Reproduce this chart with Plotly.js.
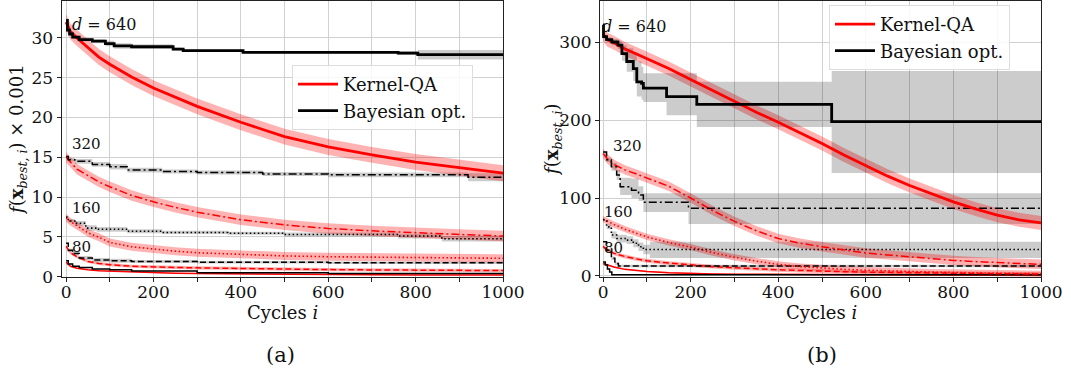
<!DOCTYPE html>
<html><head><meta charset="utf-8">
<script src="https://cdn.plot.ly/plotly-3.0.1.min.js"></script>
<style>body{margin:0;background:#fff}#chart{width:1071px;height:381px}</style>
</head><body><div id="chart"></div>
<script>
// ================= DATA =================
// ---- panel (a): f(x_best,i) x 0.001 ----
const a_kqa_cycles = [0, 10, 25, 50, 75, 100, 150, 200, 250, 300, 400, 500, 600, 700, 800, 900, 1000];
const a_kqa_640 = [32.0, 30.8, 30.0, 28.8, 27.6, 26.7, 25.1, 23.7, 22.5, 21.4, 19.4, 17.6, 16.3, 15.3, 14.4, 13.7, 13.0];
const a_kqa_320 = [15.0, 14.4, 13.5, 12.7, 11.9, 11.3, 10.2, 9.4, 8.7, 8.1, 7.15, 6.5, 6.05, 5.75, 5.5, 5.3, 5.1];
const a_kqa_160 = [7.4, 6.9, 6.4, 5.5, 4.95, 4.3, 3.75, 3.45, 3.2, 3.0, 2.8, 2.6, 2.5, 2.45, 2.4, 2.35, 2.3];
const a_kqa_80  = [3.8, 3.0, 2.5, 1.9, 1.65, 1.5, 1.3, 1.2, 1.15, 1.1, 1.0, 0.93, 0.88, 0.84, 0.8, 0.78, 0.76];
const a_kqa_40  = [1.8, 1.3, 1.05, 0.85, 0.75, 0.7, 0.58, 0.5, 0.42, 0.38, 0.32, 0.28, 0.25, 0.23, 0.21, 0.2, 0.19];
const a_kqa_spread = {640: 1.0, 320: 0.65, 160: 0.5, 80: 0.2, 40: 0.05};

const a_bo_640_x  = [0, 3, 8, 15, 30, 60, 90, 110, 150, 245, 268, 405, 760, 805, 1000];
const a_bo_640    = [32.2, 31.0, 30.5, 30.1, 29.8, 29.6, 29.3, 29.0, 28.9, 28.6, 28.4, 28.2, 28.1, 27.9, 27.9];
const a_bo_640_sd = [0.1, 0.2, 0.2, 0.2, 0.2, 0.25, 0.35, 0.35, 0.3, 0.2, 0.15, 0.15, 0.25, 0.6, 0.6];
const a_bo_320_x  = [0, 5, 20, 60, 100, 140, 220, 300, 450, 600, 920, 1000];
const a_bo_320    = [15.1, 14.7, 14.5, 14.1, 13.8, 13.4, 13.2, 13.1, 12.9, 12.8, 12.5, 12.5];
const a_bo_320_sd = [0.1, 0.2, 0.3, 0.3, 0.35, 0.3, 0.25, 0.25, 0.25, 0.3, 0.5, 0.5];
const a_bo_160_x  = [0, 5, 20, 45, 70, 140, 220, 370, 500, 760, 860, 1000];
const a_bo_160    = [7.5, 7.0, 6.7, 6.1, 5.95, 5.7, 5.55, 5.45, 5.3, 5.1, 4.75, 4.75];
const a_bo_160_sd = [0.1, 0.2, 0.3, 0.35, 0.3, 0.25, 0.2, 0.2, 0.25, 0.3, 0.35, 0.35];
const a_bo_80_x   = [0, 5, 15, 30, 60, 100, 150, 300, 600, 1000];
const a_bo_80     = [4.2, 3.3, 2.9, 2.35, 2.1, 2.0, 1.9, 1.8, 1.75, 1.7];
const a_bo_80_sd  = [0.1, 0.2, 0.25, 0.25, 0.25, 0.25, 0.2, 0.15, 0.15, 0.15];
const a_bo_40_x   = [0, 5, 15, 30, 60, 100, 150, 300, 600, 1000];
const a_bo_40     = [2.0, 1.6, 1.3, 1.15, 0.95, 0.85, 0.7, 0.5, 0.38, 0.3];
const a_bo_40_sd  = [0.02, 0.05, 0.05, 0.05, 0.05, 0.05, 0.04, 0.03, 0.03, 0.03];

// ---- panel (b): f(x_best,i) ----
const b_kqa_cycles = [0, 10, 25, 50, 75, 100, 150, 200, 250, 300, 350, 400, 450, 500, 550, 600, 650, 700, 750, 800, 850, 900, 950, 1000];
const b_kqa_640 = [310, 303, 299, 291, 285, 279, 266, 252, 238, 223, 210, 197, 184, 170, 155, 141, 128, 116, 105, 95, 86, 78, 72, 68];
const b_kqa_320 = [157, 150, 143, 136, 131, 126, 115, 100, 84, 70, 58, 48, 42, 37.5, 33.5, 29.5, 27, 24.5, 22, 20, 18.5, 17, 16, 15];
const b_kqa_160 = [73, 70, 66, 60, 55, 50, 43, 37, 30, 24, 19, 15, 12, 10, 8.5, 7.5, 6.5, 5.8, 5, 4.5, 4, 3.5, 3, 2.8];
const b_kqa_80  = [38, 33, 29, 25, 22, 19.5, 16.5, 14, 12, 10.5, 9, 8, 7, 6, 5.5, 5, 4.5, 4, 3.7, 3.4, 3.1, 2.9, 2.7, 2.5];
const b_kqa_40  = [16, 14, 11.5, 8.5, 7, 5.8, 4.2, 3.2, 2.6, 2.2, 2, 1.8, 1.7, 1.6, 1.5, 1.5, 1.4, 1.4, 1.3, 1.3, 1.3, 1.2, 1.2, 1.2];
const b_kqa_spread = {640: 9, 320: 6, 160: 4, 80: 2.5, 40: 0.8};

const b_bo_640_x  = [0, 1, 8, 20, 34, 43, 54, 69, 77, 88, 92, 145, 214, 522, 1000];
const b_bo_640    = [322, 307, 303, 300, 296, 285, 275, 266, 249, 247, 241, 230, 220, 198, 198];
const b_bo_640_hi = [322, 309, 306, 304, 301, 296, 292, 287, 275, 268, 260, 260, 249, 263, 263];
const b_bo_640_lo = [322, 305, 300, 296, 291, 276, 262, 250, 230, 226, 223, 206, 191, 132, 132];
const b_bo_320_x  = [0, 8, 19, 31, 39, 65, 81, 92, 195, 1000];
const b_bo_320    = [159, 149, 140, 129.5, 114.5, 110, 104, 94.5, 87, 87];
const b_bo_320_hi = [159, 152, 145, 136, 126, 125, 115, 106, 106, 106];
const b_bo_320_lo = [159, 146, 135, 123, 104, 100, 96, 82, 66.7, 66.7];
const b_bo_160_x  = [0, 8, 19, 31, 54, 69, 81, 92, 107, 1000];
const b_bo_160    = [72, 63, 52.5, 48, 46, 42, 37.5, 34, 34, 34];
const b_bo_160_hi = [72, 66, 57, 53, 51, 47, 43, 40, 44, 44];
const b_bo_160_lo = [72, 60, 48, 43, 41, 37, 32, 28, 23, 23];
const b_bo_80_x   = [0, 8, 19, 27, 35, 1000];
const b_bo_80     = [44, 33, 22.7, 16, 12.8, 12.8];
const b_bo_80_hi  = [44, 35, 25, 18, 14.5, 14.5];
const b_bo_80_lo  = [44, 31, 20.5, 14, 11.1, 11.1];
const b_bo_40_x   = [0, 5, 10, 15, 20, 1000];
const b_bo_40     = [18, 14, 9, 5, 1.5, 1.3];

// labels
const dimLabels = ['<i>d</i> = 640', '320', '160', '80'];
const legendNames = ['Kernel-QA', 'Bayesian opt.'];
const xTitle = 'Cycles <i>i</i>';
const yTitleA = '<i>f</i>(<b>x</b><sub><i>best, i</i></sub>) × 0.001';
const yTitleB = '<i>f</i>(<b>x</b><sub><i>best, i</i></sub>)';
const panelLabels = ['(a)', '(b)'];

// ================= BUILD =================
const RED = '#ff0000', BLACK = '#000000';
const RED_FILL = 'rgba(255,0,0,0.3)', GRAY_FILL = 'rgba(0,0,0,0.2)';
const DASH = {640: 'solid', 320: '8px,3px,2px,3px', 160: '1.5px,2.5px', 80: '6px,3px', 40: 'solid'};
const WIDTH = {640: 2.8, 320: 1.5, 160: 1.6, 80: 1.5, 40: 1.5};
const traces = [];

function band(xa, ya, x, lo, hi, fill, shape) {
  traces.push({type: 'scatter', mode: 'lines', x: x, y: lo, xaxis: xa, yaxis: ya,
    line: {width: 0, shape: shape}, showlegend: false, hoverinfo: 'skip'});
  traces.push({type: 'scatter', mode: 'lines', x: x, y: hi, xaxis: xa, yaxis: ya,
    line: {width: 0, shape: shape}, fill: 'tonexty', fillcolor: fill, showlegend: false, hoverinfo: 'skip'});
}
function line(xa, ya, x, y, color, d, shape, legendInfo) {
  const t = {type: 'scatter', mode: 'lines', x: x, y: y, xaxis: xa, yaxis: ya,
    line: {color: color, width: WIDTH[d], dash: DASH[d], shape: shape}, showlegend: false};
  if (legendInfo) { t.showlegend = true; t.name = legendInfo.name; t.legend = legendInfo.legend; t.legendrank = legendInfo.rank; }
  traces.push(t);
}

const aK = {640: a_kqa_640, 320: a_kqa_320, 160: a_kqa_160, 80: a_kqa_80, 40: a_kqa_40};
const aB = {640: [a_bo_640_x, a_bo_640, a_bo_640_sd], 320: [a_bo_320_x, a_bo_320, a_bo_320_sd],
            160: [a_bo_160_x, a_bo_160, a_bo_160_sd], 80: [a_bo_80_x, a_bo_80, a_bo_80_sd], 40: [a_bo_40_x, a_bo_40, a_bo_40_sd]};
const bK = {640: b_kqa_640, 320: b_kqa_320, 160: b_kqa_160, 80: b_kqa_80, 40: b_kqa_40};
const bB = {640: [b_bo_640_x, b_bo_640, b_bo_640_lo, b_bo_640_hi], 320: [b_bo_320_x, b_bo_320, b_bo_320_lo, b_bo_320_hi],
            160: [b_bo_160_x, b_bo_160, b_bo_160_lo, b_bo_160_hi], 80: [b_bo_80_x, b_bo_80, b_bo_80_lo, b_bo_80_hi],
            40: [b_bo_40_x, b_bo_40, b_bo_40, b_bo_40]};
const order = [40, 80, 160, 320, 640];

order.forEach(d => {
  const s = a_kqa_spread[d];
  band('x', 'y', a_kqa_cycles, aK[d].map(v => v - s), aK[d].map(v => v + s), RED_FILL, 'linear');
  const [bx, by, bsd] = aB[d];
  band('x', 'y', bx, by.map((v, i) => v - bsd[i]), by.map((v, i) => v + bsd[i]), GRAY_FILL, 'hv');
  const s2 = b_kqa_spread[d];
  band('x2', 'y2', b_kqa_cycles, bK[d].map(v => v - s2), bK[d].map(v => v + s2), RED_FILL, 'linear');
  const [cx, cy, clo, chi] = bB[d];
  if (d !== 40) band('x2', 'y2', cx, clo, chi, GRAY_FILL, 'hv');
});
order.forEach(d => {
  line('x', 'y', a_kqa_cycles, aK[d], RED, d, 'linear', d === 640 ? {name: legendNames[0], legend: 'legend', rank: 1} : null);
  line('x', 'y', aB[d][0], aB[d][1], BLACK, d, 'hv', d === 640 ? {name: legendNames[1], legend: 'legend', rank: 2} : null);
  line('x2', 'y2', b_kqa_cycles, bK[d], RED, d, 'linear', d === 640 ? {name: legendNames[0], legend: 'legend2', rank: 1} : null);
  line('x2', 'y2', bB[d][0], bB[d][1], BLACK, d, 'hv', d === 640 ? {name: legendNames[1], legend: 'legend2', rank: 2} : null);
});

const FONT = '"DejaVu Serif", serif';
const W = 1071, H = 381;
const px = v => v / W, py = v => 1 - v / H;
const GRID = '#d0d0d0';
function xAxis(dom, range, anchor) {
  return {domain: dom, range: range, anchor: anchor, dtick: 200, tick0: 0, ticks: 'outside', ticklen: 4, tickwidth: 1,
    tickcolor: '#222', showgrid: true, gridcolor: GRID, gridwidth: 1, zeroline: false, showline: true, mirror: true,
    linecolor: '#222', linewidth: 1, automargin: false, ticklabelstandoff: -4, tickfont: {family: FONT, size: 17, color: '#111'},
    minor: {dtick: 100, tick0: 0, ticks: 'outside', ticklen: 4, tickcolor: '#222', showgrid: true, gridcolor: GRID, gridwidth: 1}};
}
function yAxis(dom, range, anchor, dtick) {
  return {domain: dom, range: range, anchor: anchor, dtick: dtick, tick0: 0, ticks: 'outside', ticklen: 4, tickwidth: 1,
    tickcolor: '#222', showgrid: true, gridcolor: GRID, gridwidth: 1, zeroline: false, showline: true, mirror: true,
    linecolor: '#222', linewidth: 1, automargin: false, tickfont: {family: FONT, size: 17, color: '#111'}};
}
const yDom = [1 - 277 / H, 1 - 1 / H];
const ann = [];
function txt(text, x, y, size, opts) {
  ann.push(Object.assign({text: text, x: px(x), y: py(y), xref: 'paper', yref: 'paper', showarrow: false,
    xanchor: 'left', yanchor: 'middle', font: {family: FONT, size: size, color: '#111'}}, opts || {}));
}
txt(dimLabels[0], 70, 25, 16); txt(dimLabels[1], 70, 144, 15); txt(dimLabels[2], 70, 208, 15); txt(dimLabels[3], 70, 247, 15);
txt(dimLabels[0], 600, 27, 16); txt(dimLabels[1], 611, 146, 15); txt(dimLabels[2], 602, 212, 15); txt(dimLabels[3], 602, 248, 15);
txt(xTitle, 282, 312, 18, {xanchor: 'center'});
txt(xTitle, 821, 312, 18, {xanchor: 'center'});
txt(yTitleA, 18, 140, 18, {xanchor: 'center', textangle: -90});
txt(yTitleB, 553, 140, 18, {xanchor: 'center', textangle: -90});
txt(panelLabels[0], 280, 355, 21, {xanchor: 'center'});
txt(panelLabels[1], 822, 355, 21, {xanchor: 'center'});

const legendCommon = {bgcolor: 'rgba(255,255,255,0.85)', bordercolor: '#dddddd', borderwidth: 1, traceorder: 'normal',
  font: {family: FONT, size: 18, color: '#111'}, xanchor: 'left', yanchor: 'top', itemwidth: 40, tracegroupgap: 0};

const layout = {
  width: W, height: H, margin: {l: 0, r: 0, t: 0, b: 0}, paper_bgcolor: '#fff', plot_bgcolor: '#fff',
  showlegend: true,
  xaxis: xAxis([61.5 / W, 503 / W], [-10.5, 1000], 'y'),
  yaxis: yAxis(yDom, [-0.05, 34.65], 'x', 5),
  xaxis2: xAxis([600 / W, 1041 / W], [-7, 1000], 'y2'),
  yaxis2: yAxis(yDom, [-1.3, 352.6], 'x2', 100),
  legend: Object.assign({x: px(292), y: py(65)}, legendCommon),
  legend2: Object.assign({x: px(829), y: py(5)}, legendCommon),
  annotations: ann
};
Plotly.newPlot('chart', traces, layout, {displayModeBar: false, staticPlot: true});
</script></body></html>
